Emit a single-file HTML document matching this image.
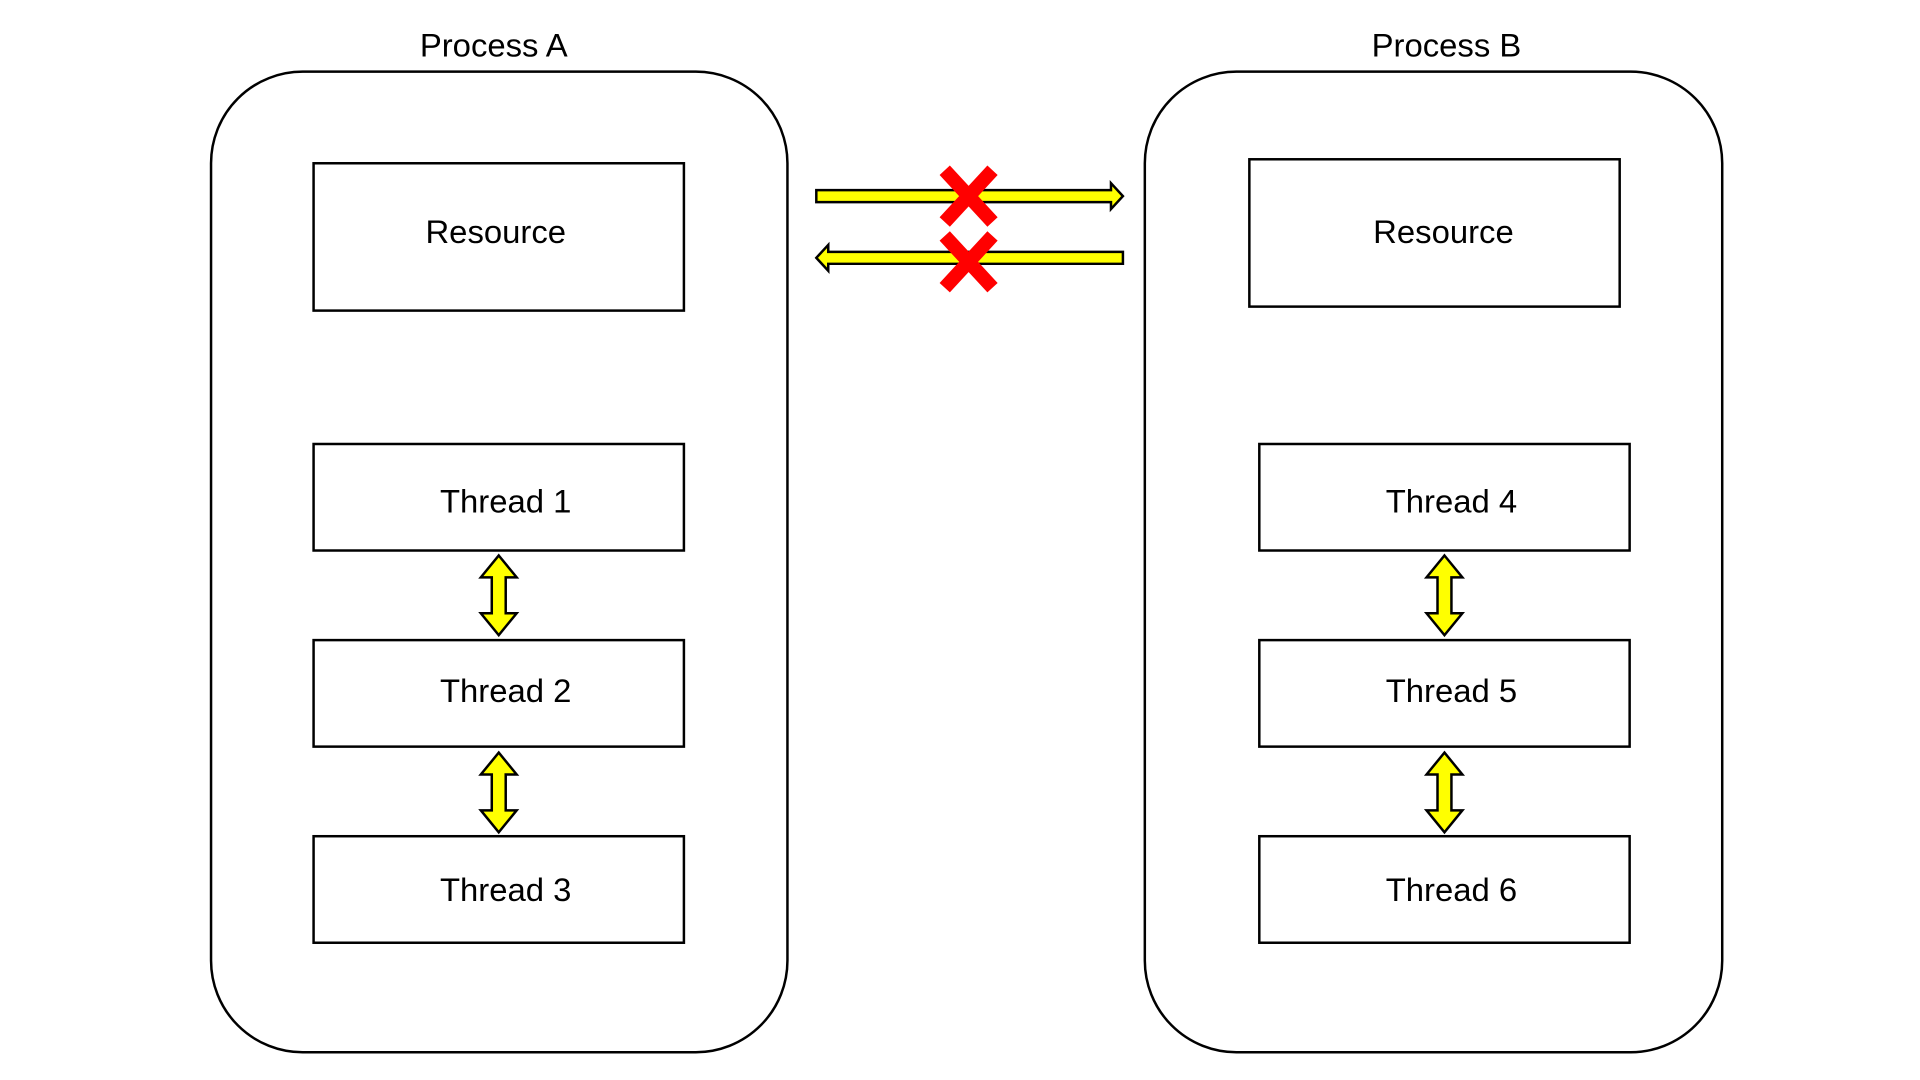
<!DOCTYPE html>
<html><head><meta charset="utf-8"><style>
html,body{margin:0;padding:0;background:#fff;}
svg{display:block;}
text{font-family:"Liberation Sans","Noto Sans CJK KR",sans-serif;font-size:33px;fill:#000;text-anchor:middle;}
</style></head><body>
<svg width="1920" height="1080" viewBox="0 0 1920 1080">
<defs>
<g id="va">
<polygon points="0,-40 18,-18 7,-18 7,18 18,18 0,40 -18,18 -7,18 -7,-18 -18,-18" fill="#ffff00" stroke="#000" stroke-width="2.5"/>
</g>
<g id="xx">
<path d="M-24,-26 L24,26 M24,-26 L-24,26" stroke="#ff0000" stroke-width="14"/>
</g>
</defs>
<g transform="scale(0.9955)">
<text x="496" y="57">Process A</text>
<text x="1453" y="57">Process B</text>
<rect x="212" y="72" width="579" height="985" rx="92" ry="92" fill="none" stroke="#000" stroke-width="2.5"/>
<rect x="1150" y="72" width="580" height="985" rx="92" ry="92" fill="none" stroke="#000" stroke-width="2.5"/>
<g fill="#fff" stroke="#000" stroke-width="2.5">
<rect x="315" y="164" width="372" height="148"/>
<rect x="1255" y="160" width="372" height="148"/>
<rect x="315" y="446" width="372" height="107"/>
<rect x="315" y="643" width="372" height="107"/>
<rect x="315" y="840" width="372" height="107"/>
<rect x="1265" y="446" width="372" height="107"/>
<rect x="1265" y="643" width="372" height="107"/>
<rect x="1265" y="840" width="372" height="107"/>
</g>
<text x="498" y="244">Resource</text>
<text x="1450" y="244">Resource</text>
<text x="508" y="515">Thread 1</text>
<text x="508" y="705">Thread 2</text>
<text x="508" y="905">Thread 3</text>
<text x="1458" y="515">Thread 4</text>
<text x="1458" y="705">Thread 5</text>
<text x="1458" y="905">Thread 6</text>
<use href="#va" x="501" y="598"/>
<use href="#va" x="501" y="796"/>
<use href="#va" x="1451" y="598"/>
<use href="#va" x="1451" y="796"/>
<polygon points="820,191 1116,191 1116,184 1128,197 1116,210 1116,203 820,203" fill="#ffff00" stroke="#000" stroke-width="2.5"/>
<polygon points="1128,253 832,253 832,246 820,259 832,272 832,265 1128,265" fill="#ffff00" stroke="#000" stroke-width="2.5"/>
<use href="#xx" x="973" y="197"/>
<use href="#xx" x="973" y="263"/>
</g>
</svg>
</body></html>
